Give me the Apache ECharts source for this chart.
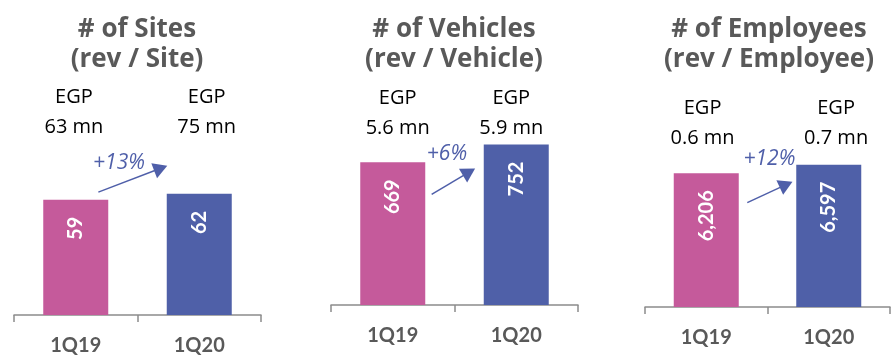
<!DOCTYPE html>
<html>
<head>
<meta charset="utf-8">
<script src="https://cdn.jsdelivr.net/npm/echarts@6/dist/echarts.min.js"></script>
<style>
html,body{margin:0;padding:0;background:#fff;}
#c{width:892px;height:356px;}
</style>
</head>
<body>
<div id="c"></div>
<script>
// ---- data ----
const categories = ['1Q19', '1Q20'];
const sitesValues = [59, 62];
const vehiclesValues = [669, 752];
const employeesValues = [6206, 6597];
const sitesLabels = ['59', '62'];
const vehiclesLabels = ['669', '752'];
const employeesLabels = ['6,206', '6,597'];
const revPerSite = ['63 mn', '75 mn'];
const revPerVehicle = ['5.6 mn', '5.9 mn'];
const revPerEmployee = ['0.6 mn', '0.7 mn'];
const growthLabels = ['+13%', '+6%', '+12%'];
const titleLine1 = ['# of Sites', '# of Vehicles', '# of Employees'];
const titleLine2 = ['(rev / Site)', '(rev / Vehicle)', '(rev / Employee)'];
const currency = 'EGP';

// ---- styling / layout ----
const PINK = '#c55a9b';
const BLUE = '#4f60a8';
const ARROW = '#4f5fa9';
const GRAY_AXIS = '#8c8c8c';
const GRAY_TEXT = '#595959';

const panels = [
  { values: sitesValues, labels: sitesLabels, rev: revPerSite,
    grid: { left: 14, width: 247, top: 0, height: 317 }, yMax: 161.2,
    revPos: [[-0.015, 103.7], [1.06, 103.7]],
    arrow: [[0.183, 62.9], [0.688, 75.1]], growthPos: [0.35, 77.9], titleX: 137 },
  { values: vehiclesValues, labels: vehiclesLabels, rev: revPerVehicle,
    grid: { left: 331, width: 247, top: 0, height: 305 }, yMax: 1430,
    revPos: [[0.04, 900], [0.96, 900]],
    arrow: [[0.315, 519], [0.618, 623]], growthPos: [0.439, 708], titleX: 454 },
  { values: employeesValues, labels: employeesLabels, rev: revPerEmployee,
    grid: { left: 645, width: 245, top: 0, height: 307 }, yMax: 14239,
    revPos: [[-0.03, 8534], [1.06, 8534]],
    arrow: [[0.335, 4838], [0.652, 5676]], growthPos: [0.516, 6855], titleX: 769 }
];

const grids = [], xAxes = [], yAxes = [], series = [];

panels.forEach((p, i) => {
  grids.push(Object.assign({}, p.grid));
  xAxes.push({
    type: 'category', gridIndex: i, data: categories,
    axisLine: { lineStyle: { color: GRAY_AXIS, width: 1.5 } },
    axisTick: { show: true, length: 7, lineStyle: { color: GRAY_AXIS, width: 1.5 } },
    axisLabel: { margin: 21, fontSize: 20, fontWeight: 'bold', color: GRAY_TEXT, fontFamily: 'Lato' }
  });
  yAxes.push({ type: 'value', gridIndex: i, min: 0, max: p.yMax, show: false, splitLine: { show: false } });
});
// hidden value x axes for annotations
panels.forEach((p, i) => {
  xAxes.push({ type: 'value', gridIndex: i, min: -0.5, max: 1.5, show: false, splitLine: { show: false } });
});

const noBorder = { textBorderWidth: 0, textBorderColor: 'transparent', textShadowBlur: 0, opacity: 1 };

panels.forEach((p, i) => {
  series.push({
    type: 'bar', xAxisIndex: i, yAxisIndex: i, barWidth: 65,
    data: p.values.map((v, k) => ({ value: v, itemStyle: { color: k === 0 ? PINK : BLUE } })),
    label: {
      show: true, rotate: 90, position: 'insideTop', distance: 17,
      align: 'right', verticalAlign: 'middle',
      formatter: (prm) => p.labels[prm.dataIndex],
      color: '#fff', fontWeight: 'bold', fontSize: 20, fontFamily: 'Lato'
    },
    silent: true
  });
  // revenue-per-unit labels
  series.push({
    type: 'scatter', xAxisIndex: 3 + i, yAxisIndex: i, symbolSize: 0,
    itemStyle: { color: '#000' }, silent: true,
    data: p.rev.map((r, k) => ({ value: p.revPos[k], name: currency + '\n' + r })),
    label: Object.assign({
      show: true, position: 'inside', formatter: '{b}',
      color: '#000', fontSize: 20, lineHeight: 30, fontFamily: 'Open Sans', fontWeight: 'normal'
    }, noBorder)
  });
  // growth arrow + label
  series.push({
    type: 'scatter', xAxisIndex: 3 + i, yAxisIndex: i, symbolSize: 0,
    itemStyle: { color: ARROW }, silent: true,
    data: [{ value: p.growthPos, name: growthLabels[i] }],
    label: Object.assign({
      show: true, position: 'inside', formatter: '{b}',
      color: ARROW, fontSize: 21, fontStyle: 'italic', fontFamily: 'Open Sans', fontWeight: 'normal'
    }, noBorder),
    markLine: {
      silent: true, animation: false,
      symbol: ['none', 'triangle'], symbolSize: [16, 14],
      itemStyle: { color: ARROW },
      lineStyle: { color: ARROW, width: 1.5, type: 'solid', opacity: 1 },
      label: { show: false },
      data: [[{ coord: p.arrow[0] }, { coord: p.arrow[1] }]]
    }
  });
});

const chart = echarts.init(document.getElementById('c'), null, { renderer: 'canvas' });
chart.setOption({
  animation: false,
  grid: grids, xAxis: xAxes, yAxis: yAxes, series: series,
  // titles centred above each panel's middle tick
  graphic: panels.map((p, i) => ({
    type: 'text', x: p.titleX, y: 15, silent: true,
    style: {
      text: titleLine1[i] + '\n' + titleLine2[i],
      align: 'center', verticalAlign: 'top',
      fontFamily: 'Open Sans', fontWeight: 'bold', fontSize: 26,
      lineHeight: 30, fill: GRAY_TEXT
    }
  }))
});
</script>
</body>
</html>
